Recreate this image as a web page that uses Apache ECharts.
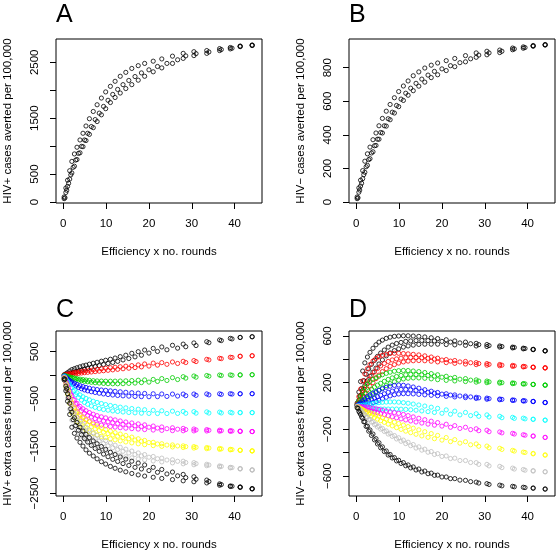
<!DOCTYPE html>
<html><head><meta charset="utf-8">
<script src="https://cdn.jsdelivr.net/npm/echarts@6/dist/echarts.min.js"></script>
<style>html,body{margin:0;padding:0;background:#fff}#c{width:558px;height:554px}</style>
</head><body><div id="c"></div>
<script>
// x positions (Efficiency x no. rounds): main set and an interleaved set
const xs = [0.2,0.6,1.0,1.5,2.0,2.6,3.2,3.9,4.6,5.3,6.1,7.0,7.9,8.9,9.9,11.0,12.1,13.3,14.6,16.0,17.5,19.0,21.0,23.0,25.5,28.0,30.5,33.5,36.5,39.0,41.3,44.1];
const xsAlt = [0.4,0.8,1.25,1.75,2.3,2.9,3.55,4.25,4.95,5.7,6.55,7.45,8.4,9.4,10.45,11.55,12.7,13.95,15.3,16.75,18.25,20.0,22.0,24.2,26.7,28.6,31.0,34.0,36.9,39.4,41.3,44.1];

// Panel A: HIV+ cases averted
const aHi = [90,250,390,560,726,860,980,1110,1230,1360,1490,1620,1740,1860,1970,2070,2160,2250,2320,2390,2440,2480,2520,2560,2610,2660,2690,2710,2745,2765,2791,2809];
const aMid = [75,210,335,485,620,750,870,995,1110,1230,1350,1475,1590,1710,1820,1925,2015,2100,2175,2245,2310,2365,2425,2480,2545,2615,2655,2685,2728,2752,2785,2805];
const aLo = [60,170,280,410,520,640,760,880,990,1100,1210,1330,1440,1560,1670,1780,1870,1950,2030,2100,2180,2250,2330,2400,2480,2570,2620,2660,2710,2740,2780,2800];

// Panel B: HIV- cases averted
const bHi = [30,84,130,187,243,287,327,371,411,454,498,541,581,621,658,691,721,752,775,798,815,828,842,855,872,888,898,905,917,924,932,938];
const bMid = [25,71,112,163,210,252,292,335,374,414,454,496,535,575,613,648,678,707,732,756,778,793,812,830,853,875,888,898,912,920,930,936];
const bLo = [20,58,95,139,177,218,258,299,337,374,411,452,490,530,568,605,636,663,690,714,741,758,783,806,835,862,877,890,907,916,928,935];

// Panel C: HIV+ extra cases found (9 scenarios)
const c1Hi = [10,30,55,90,120,140,160,180,200,215,235,255,275,298,318,340,365,395,425,465,500,535,570,600,635,660,685,712,748,782,803,817];
const c1Lo = [5,18,30,45,60,75,90,108,128,145,165,185,205,228,250,272,295,325,355,390,425,470,505,540,575,605,630,690,735,770,800,815];
const c2Hi = [3,12,22,35,48,58,66,76,85,93,103,115,126,138,150,160,170,181,193,205,220,240,258,268,282,296,312,338,360,382,405,415];
const c2Lo = [0,5,10,18,25,32,40,48,55,62,70,78,87,96,105,115,126,138,150,163,178,195,215,232,250,270,290,325,352,378,400,412];
const c3Hi = [-5,-15,-25,-35,-45,-58,-70,-82,-92,-100,-108,-115,-120,-123,-125,-125,-124,-122,-118,-112,-105,-98,-88,-70,-50,-30,-15,-5,5,8,10,13];
const c3Lo = [-8,-25,-40,-55,-68,-85,-100,-115,-128,-138,-148,-158,-165,-172,-178,-180,-180,-178,-172,-165,-155,-145,-130,-110,-90,-60,-40,-20,-5,0,5,10];
const c4Hi = [-15,-45,-75,-110,-140,-170,-195,-220,-240,-258,-275,-290,-302,-312,-320,-330,-340,-350,-360,-370,-378,-385,-392,-396,-398,-398,-397,-395,-393,-391,-390,-389];
const c4Lo = [-22,-65,-105,-150,-190,-225,-258,-285,-310,-330,-348,-365,-380,-395,-408,-418,-428,-436,-442,-448,-452,-454,-452,-448,-440,-432,-425,-415,-405,-398,-394,-391];
const c5Hi = [-25,-80,-135,-200,-260,-320,-370,-415,-455,-490,-520,-550,-575,-598,-620,-640,-658,-675,-690,-705,-718,-730,-742,-752,-760,-766,-770,-775,-780,-784,-787,-790];
const c5Lo = [-35,-110,-180,-265,-340,-410,-470,-525,-575,-615,-650,-680,-705,-725,-740,-755,-767,-778,-788,-796,-803,-808,-810,-810,-808,-805,-802,-800,-798,-796,-794,-792];
const c6Hi = [-40,-130,-220,-330,-430,-520,-595,-660,-710,-750,-790,-825,-855,-880,-902,-925,-945,-968,-990,-1010,-1030,-1050,-1075,-1095,-1112,-1125,-1138,-1150,-1162,-1172,-1182,-1191];
const c6Mid = [-50,-158,-265,-395,-515,-610,-688,-752,-805,-848,-885,-918,-945,-968,-986,-1005,-1022,-1039,-1055,-1070,-1085,-1100,-1118,-1131,-1142,-1150,-1158,-1165,-1173,-1180,-1186,-1192];
const c6Lo = [-60,-185,-310,-460,-600,-700,-780,-845,-900,-945,-980,-1010,-1035,-1055,-1070,-1085,-1098,-1110,-1120,-1130,-1140,-1150,-1160,-1167,-1172,-1175,-1178,-1180,-1184,-1187,-1190,-1193];
const c7Hi = [-50,-170,-290,-440,-580,-680,-760,-830,-890,-935,-985,-1035,-1075,-1115,-1150,-1185,-1215,-1245,-1275,-1310,-1345,-1380,-1420,-1450,-1475,-1495,-1510,-1530,-1550,-1568,-1585,-1600];
const c7Mid = [-62,-205,-345,-520,-690,-790,-870,-940,-1000,-1048,-1092,-1135,-1170,-1205,-1235,-1265,-1292,-1318,-1344,-1371,-1398,-1425,-1455,-1478,-1497,-1512,-1526,-1542,-1559,-1574,-1588,-1602];
const c7Lo = [-75,-240,-400,-600,-800,-900,-980,-1050,-1110,-1160,-1200,-1235,-1265,-1295,-1320,-1345,-1368,-1390,-1412,-1432,-1452,-1470,-1490,-1505,-1518,-1530,-1542,-1555,-1568,-1580,-1592,-1604];
const c8Hi = [-60,-200,-340,-510,-680,-800,-890,-975,-1045,-1100,-1160,-1220,-1270,-1330,-1385,-1435,-1480,-1525,-1565,-1605,-1645,-1680,-1720,-1755,-1790,-1820,-1850,-1885,-1920,-1950,-1975,-2002];
const c8Mid = [-75,-245,-410,-615,-815,-935,-1025,-1108,-1178,-1235,-1290,-1345,-1392,-1445,-1492,-1535,-1572,-1610,-1645,-1678,-1708,-1736,-1768,-1795,-1822,-1848,-1872,-1900,-1930,-1956,-1980,-2005];
const c8Lo = [-90,-290,-480,-720,-950,-1070,-1160,-1240,-1310,-1370,-1420,-1470,-1515,-1560,-1600,-1635,-1665,-1695,-1725,-1750,-1772,-1792,-1815,-1835,-1855,-1875,-1895,-1915,-1940,-1962,-1985,-2008];
const c9Hi = [-70,-230,-390,-590,-780,-900,-1000,-1100,-1180,-1250,-1320,-1390,-1450,-1510,-1570,-1630,-1680,-1730,-1775,-1820,-1860,-1900,-1950,-1995,-2050,-2100,-2150,-2220,-2300,-2345,-2365,-2400];
const c9Mid = [-85,-280,-470,-710,-940,-1065,-1165,-1260,-1340,-1415,-1485,-1550,-1610,-1670,-1725,-1780,-1825,-1870,-1910,-1950,-1985,-2018,-2055,-2090,-2130,-2168,-2202,-2250,-2315,-2350,-2370,-2404];
const c9Lo = [-100,-330,-550,-830,-1100,-1230,-1330,-1420,-1500,-1580,-1650,-1710,-1770,-1830,-1880,-1930,-1970,-2010,-2045,-2080,-2110,-2135,-2160,-2185,-2210,-2235,-2255,-2280,-2330,-2355,-2375,-2408];

// Panel D: HIV- extra cases found (9 scenarios)
const d1Hi = [25,120,210,300,370,420,460,495,525,548,565,580,590,597,600,602,602,600,597,592,585,578,568,558,548,537,527,515,505,496,486,474];
const d1Mid = [18,85,150,218,272,318,358,392,425,454,480,505,522,536,545,554,558,561,562,561,558,554,548,541,534,526,518,510,502,493,485,473];
const d1Lo = [10,50,90,135,175,215,255,290,325,360,395,430,455,475,490,505,515,522,528,530,530,530,527,524,520,515,510,505,498,490,483,472];
const d2Hi = [15,80,145,215,275,320,355,385,408,422,435,444,450,452,452,450,447,443,438,430,420,410,398,390,382,372,364,356,348,340,334,328];
const d2Mid = [10,55,100,150,192,230,262,292,322,344,365,382,395,404,410,414,416,416,414,409,402,394,385,378,371,364,357,350,344,338,332,327];
const d2Lo = [5,30,55,85,110,140,170,200,235,265,295,320,340,355,368,378,385,388,390,388,384,378,372,366,360,355,350,345,340,335,331,326];
const d3Hi = [8,45,85,125,160,190,210,228,243,255,268,280,290,298,303,305,304,300,295,287,278,268,255,245,235,224,214,205,198,192,186,180];
const d3Mid = [5,30,55,82,105,128,145,162,179,195,212,228,241,253,262,268,271,270,268,262,256,247,238,230,222,214,207,200,195,190,185,179];
const d3Lo = [3,15,25,38,50,65,80,97,115,135,155,175,192,208,222,232,238,241,241,238,233,226,220,215,210,205,200,196,192,188,184,178];
const d4Hi = [3,15,28,45,62,80,95,110,123,135,148,160,170,177,180,178,172,163,153,140,127,116,105,95,85,75,68,60,52,46,40,31];
const d4Mid = [2,8,16,26,36,48,58,69,80,92,105,118,128,137,142,142,139,134,126,118,110,102,94,86,78,70,63,57,50,44,39,30];
const d4Lo = [0,2,5,8,10,15,20,28,38,50,62,75,87,97,103,106,106,104,100,96,92,88,83,78,72,65,58,54,48,43,38,29];
const d5Hi = [0,2,5,8,10,14,18,22,26,29,32,34,35,35,33,29,24,17,9,0,-10,-20,-33,-44,-55,-66,-76,-88,-97,-104,-112,-120];
const d5Lo = [-2,-6,-10,-14,-18,-21,-23,-25,-26,-26,-26,-26,-26,-26,-27,-29,-32,-36,-42,-48,-55,-62,-70,-76,-82,-88,-94,-100,-106,-110,-115,-122];
const d6Hi = [-1,-3,-5,-7,-9,-12,-15,-19,-24,-29,-35,-42,-49,-56,-63,-72,-82,-93,-105,-117,-130,-142,-156,-168,-182,-195,-207,-222,-234,-246,-256,-268];
const d6Lo = [-3,-10,-16,-23,-30,-37,-44,-51,-58,-66,-74,-83,-92,-101,-110,-119,-128,-137,-146,-155,-164,-172,-182,-192,-202,-211,-220,-230,-240,-250,-259,-270];
const d7Hi = [-4,-12,-20,-30,-40,-50,-58,-67,-77,-88,-100,-113,-125,-138,-150,-163,-176,-190,-204,-220,-236,-252,-270,-288,-306,-325,-343,-362,-380,-395,-406,-418];
const d7Lo = [-6,-18,-30,-44,-58,-72,-85,-98,-112,-126,-140,-155,-170,-185,-200,-215,-228,-242,-256,-268,-280,-292,-305,-318,-332,-345,-358,-372,-386,-398,-410,-422];
const d8Hi = [-8,-24,-40,-58,-75,-95,-114,-135,-155,-172,-192,-213,-232,-253,-272,-292,-310,-330,-350,-370,-390,-408,-428,-447,-467,-485,-500,-517,-532,-544,-553,-562];
const d8Lo = [-10,-30,-50,-72,-95,-117,-138,-160,-180,-198,-218,-240,-260,-282,-302,-322,-340,-360,-378,-396,-415,-432,-450,-467,-484,-500,-513,-528,-540,-550,-558,-565];
const d9Hi = [-15,-45,-72,-105,-135,-172,-205,-240,-280,-315,-350,-385,-415,-442,-465,-485,-505,-522,-540,-557,-575,-592,-608,-622,-637,-652,-665,-678,-688,-696,-702,-710];
const d9Lo = [-20,-58,-95,-135,-175,-215,-252,-290,-325,-358,-390,-420,-445,-470,-492,-512,-530,-548,-565,-580,-594,-608,-622,-635,-648,-660,-672,-684,-692,-699,-705,-713];

// colours (R default palette order)
const colors = ['#000000','#FF0000','#00CD00','#0000FF','#00FFFF','#FF00FF','#FFFF00','#BEBEBE','#000000'];

// ticks & labels
const xTicks = [0,10,20,30,40];
const aTicks = [0,500,1000,1500,2000,2500];
const aLabels = [0,500,1500,2500];
const bTicks = [0,200,400,600,800];
const bLabels = [0,200,400,600,800];
const cTicks = [-2500,-2000,-1500,-1000,-500,0,500];
const cLabels = [-2500,-1500,-500,500];
const dTicks = [-600,-400,-200,0,200,400,600];
const dLabels = [-600,-200,200,600];

const MINUS = '\u2212';
const F = "'Liberation Sans', Arimo, Helvetica, Arial, sans-serif";
const FS = 11.5;

// pts(xArr, yArr, xArr, yArr, ...)
function pts() {
  const out = [];
  for (let k = 0; k < arguments.length; k += 2) {
    const xa = arguments[k], ya = arguments[k + 1];
    xa.forEach((x, i) => out.push([x, ya[i]]));
  }
  return out;
}
function sc(g, color, data) {
  return { type: 'scatter', xAxisIndex: g, yAxisIndex: g, data: data, symbol: 'circle', symbolSize: 4.2,
    itemStyle: { color: 'rgba(0,0,0,0)', borderColor: color, borderWidth: 1 },
    silent: true, animation: false, clip: true };
}
function fmt(v) { return v < 0 ? MINUS + Math.abs(v) : String(v); }
function xAx(g) {
  return { type: 'value', gridIndex: g, min: -1.7, max: 46.4,
    name: 'Efficiency x no. rounds', nameLocation: 'middle', nameGap: 43,
    nameTextStyle: { fontSize: FS, color: '#000', fontFamily: F },
    axisLine: { show: false, onZero: false },
    axisTick: { show: true, inside: false, length: 6, customValues: xTicks, lineStyle: { color: '#000', width: 1 } },
    axisLabel: { customValues: xTicks, margin: 15, fontSize: FS, color: '#000', fontFamily: F, formatter: fmt },
    splitLine: { show: false } };
}
function yAx(g, min, max, ticks, labels, name) {
  return { type: 'value', gridIndex: g, min: min, max: max,
    name: name, nameLocation: 'middle', nameGap: 42, nameRotate: 90,
    nameTextStyle: { fontSize: FS, color: '#000', fontFamily: F },
    axisLine: { show: false, onZero: false },
    axisTick: { show: true, inside: false, length: 6, customValues: ticks, lineStyle: { color: '#000', width: 1 } },
    axisLabel: { customValues: labels, rotate: 90, margin: 15, fontSize: FS, color: '#000', fontFamily: F, formatter: fmt },
    splitLine: { show: false } };
}
function grid(l, t, w, h) {
  return { left: l, top: t, width: w, height: h, show: true, borderColor: '#000', borderWidth: 1,
    backgroundColor: 'rgba(0,0,0,0)', containLabel: false, outerBoundsMode: 'none' };
}
function ttl(text, l, t) {
  return { text: text, left: l, top: t, padding: 0,
    textStyle: { fontSize: 25, fontWeight: 'normal', color: '#000', fontFamily: F } };
}

const series = [
  sc(0, '#000000', pts(xs, aHi, xsAlt, aMid, xs, aLo)),
  sc(1, '#000000', pts(xs, bHi, xsAlt, bMid, xs, bLo)),
  sc(2, colors[0], pts(xs, c1Hi, xsAlt, c1Lo)),
  sc(2, colors[1], pts(xs, c2Hi, xsAlt, c2Lo)),
  sc(2, colors[2], pts(xs, c3Hi, xsAlt, c3Lo)),
  sc(2, colors[3], pts(xs, c4Hi, xsAlt, c4Lo)),
  sc(2, colors[4], pts(xs, c5Hi, xsAlt, c5Lo)),
  sc(2, colors[5], pts(xs, c6Hi, xsAlt, c6Mid, xs, c6Lo)),
  sc(2, colors[6], pts(xs, c7Hi, xsAlt, c7Mid, xs, c7Lo)),
  sc(2, colors[7], pts(xs, c8Hi, xsAlt, c8Mid, xs, c8Lo)),
  sc(2, colors[8], pts(xs, c9Hi, xsAlt, c9Mid, xs, c9Lo)),
  sc(3, colors[0], pts(xs, d1Hi, xsAlt, d1Mid, xs, d1Lo)),
  sc(3, colors[1], pts(xs, d2Hi, xsAlt, d2Mid, xs, d2Lo)),
  sc(3, colors[2], pts(xs, d3Hi, xsAlt, d3Mid, xs, d3Lo)),
  sc(3, colors[3], pts(xs, d4Hi, xsAlt, d4Mid, xs, d4Lo)),
  sc(3, colors[4], pts(xs, d5Hi, xsAlt, d5Lo)),
  sc(3, colors[5], pts(xs, d6Hi, xsAlt, d6Lo)),
  sc(3, colors[6], pts(xs, d7Hi, xsAlt, d7Lo)),
  sc(3, colors[7], pts(xs, d8Hi, xsAlt, d8Lo)),
  sc(3, colors[8], pts(xs, d9Hi, xsAlt, d9Lo))
];

const chart = echarts.init(document.getElementById('c'), null, { renderer: 'canvas' });
chart.setOption({
  animation: false,
  backgroundColor: '#fff',
  title: [ttl('A', 56, 3), ttl('B', 349, 3), ttl('C', 56, 298), ttl('D', 349, 298)],
  grid: [grid(56, 39, 206, 164), grid(349, 39, 206, 164), grid(56, 331, 206, 165), grid(349, 331, 206, 165)],
  xAxis: [xAx(0), xAx(1), xAx(2), xAx(3)],
  yAxis: [
    yAx(0, -18, 2917, aTicks, aLabels, 'HIV+ cases averted per 100,000'),
    yAx(1, -6, 971, bTicks, bLabels, 'HIV' + MINUS + ' cases averted per 100,000'),
    yAx(2, -2557, 938, cTicks, cLabels, 'HIV+ extra cases found per 100,000'),
    yAx(3, -771, 643, dTicks, dLabels, 'HIV' + MINUS + ' extra cases found per 100,000')
  ],
  series: series
});
</script>
</body></html>
